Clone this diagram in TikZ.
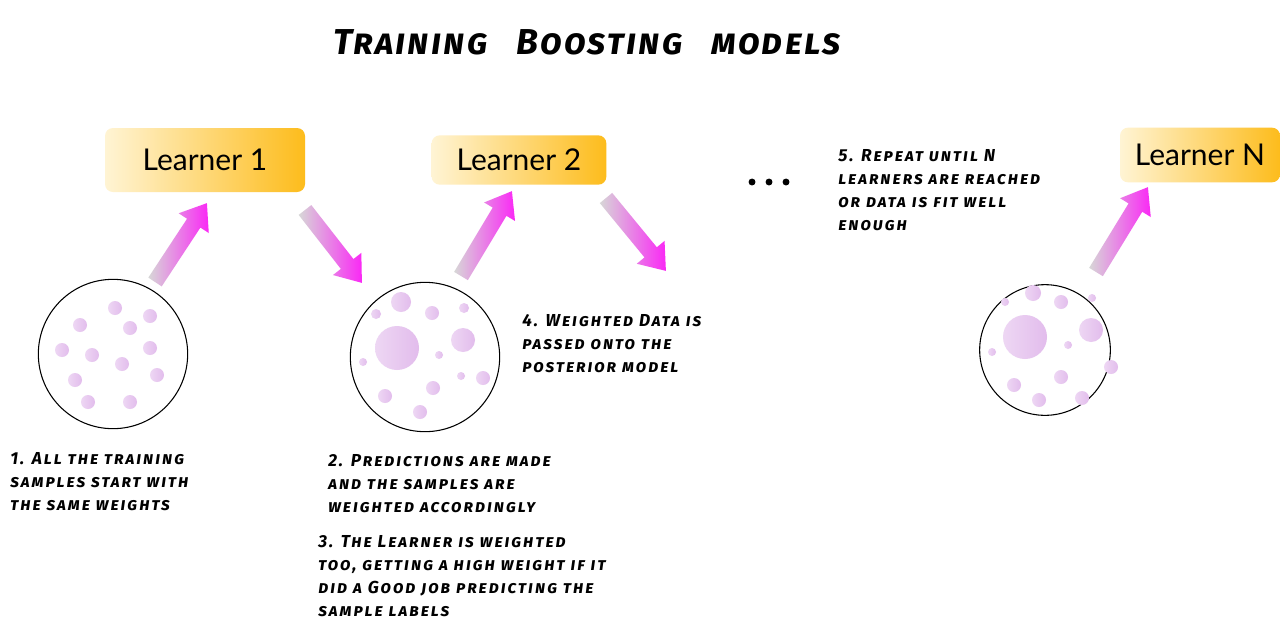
\documentclass[tikz,border=0pt]{standalone}
\usepackage{fontspec}
\setmainfont{Lato}
\newfontfamily\comic[Letters=SmallCaps,LetterSpace=6]{Fira Sans Bold Italic}
\newfontfamily\comicnote[Letters=SmallCaps,LetterSpace=11]{Fira Sans Bold Italic}
\usetikzlibrary{calc}
\definecolor{cream}{RGB}{255,244,212}
\definecolor{orng}{RGB}{253,188,28}
\definecolor{gry}{RGB}{215,215,215}
\definecolor{mag}{RGB}{250,40,245}
\definecolor{dotc}{RGB}{226,188,236}
\tikzset{
 learner/.style={rounded corners=6pt,left color=cream,right color=orng,draw=none,inner sep=0pt,font=\fontsize{22.5}{24}\selectfont},
 sample/.style={circle,draw=black,line width=0.8pt,fill=white,inner sep=0pt},
 note/.style={anchor=north west,align=left,inner sep=0pt,font=\comicnote\fontsize{13}{17.3}\selectfont},
}
\begin{document}
\begin{tikzpicture}[x=0.75pt,y=-0.75pt]
\useasboundingbox (0,0) rectangle (1280,636);
\fill[white] (0,0) rectangle (1280,636);
\node[font=\comic\fontsize{27}{30}\selectfont] (title) at (587,42) {Training\hspace{0.5em} Boosting\hspace{0.5em} models};
\node[learner,minimum width=150pt,minimum height=48pt] (l1) at (205,160) {Learner 1};
\node[learner,minimum width=131pt,minimum height=37pt] (l2) at (519,160) {Learner 2};
\node[learner,minimum width=120pt,minimum height=41pt] (ln) at (1200,155) {Learner N};
\foreach \i/\x in {1/752,2/769,3/786} \fill (\x,182) circle[radius=2.6pt] coordinate (dot\i);
\node[sample,minimum size=112pt] (c1) at (113,354) {};
\node[sample,minimum size=112pt] (c2) at (425,357) {};
\node[sample,minimum size=98pt] (c3) at (1045,350) {};
\coordinate (a1s) at (155,282); \coordinate (a1e) at (207,203);
\coordinate (a2s) at (305,210); \coordinate (a2e) at (362,283);
\coordinate (a3s) at (461,276); \coordinate (a3e) at (512,191);
\coordinate (a4s) at (606,198); \coordinate (a4e) at (666,271);
\coordinate (a5s) at (1096,272); \coordinate (a5e) at (1148,187);
\foreach \s/\e in {a1s/a1e,a2s/a2e,a3s/a3e,a4s/a4e,a5s/a5e}{
 \path let \p1=(\s), \p2=(\e), \n1={atan2(\y2-\y1,\x2-\x1)}, \n2={veclen(\x2-\x1,\y2-\y1)} in
  [shift={(\p1)},rotate=\n1]
  [left color=gry,right color=mag,draw=none]
  (0pt,-6pt) -- (\n2-18pt,-6pt) -- (\n2-18pt,-13.5pt) -- (\n2,0pt) -- (\n2-18pt,13.5pt) -- (\n2-18pt,6pt) -- (0pt,6pt) -- cycle;
}
\foreach \x/\y/\r in {115/308/7,80/325/7,130/328/7,150/316/7,62/350/7,92/355/7,122/364/7,150/348/7,75/380/7,157/375/7,88/402/7,130/402/7,
 397/348/22,401/302/10,376/314/5,432/313/7,464/308/5,463/340/12,439/355/4,363/362/4,461/376/4,483/378/7,433/388/7,385/396/7,420/412/7,
 1025/337/22,1033/293/8,1005/302/4,1061/302/7,1092/298/4,1091/330/12,1068/345/4,992/352/4,1061/377/7,1111/367/7,1014/385/7,1039/400/7,1082/398/7}
 \shade[left color=dotc!60,right color=dotc] (\x,\y) circle[radius=\r*0.75pt];
\node[note] (t1) at (10,452) {1. All the training\\samples start with\\the same weights};
\node[note] (t2) at (328,454) {2. Predictions are made\\and the samples are\\weighted accordingly};
\node[note] (t3) at (318,535) {3. The Learner is weighted\\too, getting a high weight if it\\did a Good job predicting the\\sample labels};
\node[note] (t4) at (522,314) {4. Weighted Data is\\passed onto the\\posterior model};
\node[note] (t5) at (838,149) {5. Repeat until N\\learners are reached\\or data is fit well\\enough};
\end{tikzpicture}
\end{document}
